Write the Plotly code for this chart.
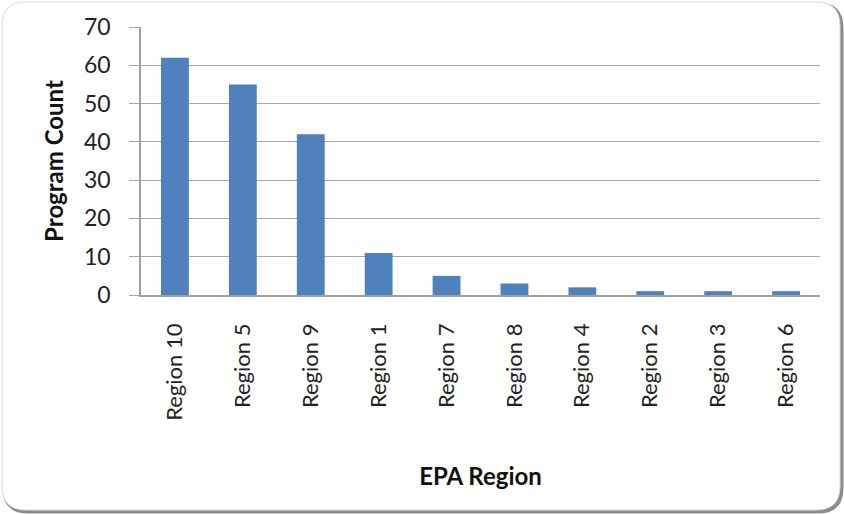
import plotly.graph_objects as go

regions = ["Region 10", "Region 5", "Region 9", "Region 1", "Region 7",
           "Region 8", "Region 4", "Region 2", "Region 3", "Region 6"]
counts = [62, 55, 42, 11, 5, 3, 2, 1, 1, 1]
y_ticks = [0, 10, 20, 30, 40, 50, 60, 70]

W, H = 844, 514
L, R, T, B = 141, 24, 27, 219
pw, ph = W - L - R, H - T - B

def px(x):
    return (x - L) / pw

def py(y):
    return (H - B - y) / ph

fig = go.Figure(go.Bar(x=regions, y=counts, marker_color="#4F81BD",
                       marker_line_width=0, width=0.41))

def rrect(x0, y0, x1, y1, r):
    return (f"M {px(x0+r)},{py(y0)} L {px(x1-r)},{py(y0)} "
            f"Q {px(x1)},{py(y0)} {px(x1)},{py(y0+r)} "
            f"L {px(x1)},{py(y1-r)} Q {px(x1)},{py(y1)} {px(x1-r)},{py(y1)} "
            f"L {px(x0+r)},{py(y1)} Q {px(x0)},{py(y1)} {px(x0)},{py(y1-r)} "
            f"L {px(x0)},{py(y0+r)} Q {px(x0)},{py(y0)} {px(x0+r)},{py(y0)} Z")

# shadow + rounded frame
fig.add_shape(type="path", path=rrect(4, 4, 842, 512, 24), xref="paper", yref="paper",
              line=dict(color="#8c8c8c", width=3), fillcolor="#8c8c8c", layer="below")
fig.add_shape(type="path", path=rrect(2, 2, 840, 510, 24), xref="paper", yref="paper",
              line=dict(color="#dcdcdc", width=1), fillcolor="white", layer="below")

tick_font = "Lato, Liberation Sans, sans-serif"
fig.update_layout(
    width=W, height=H,
    margin=dict(l=L, r=R, t=T, b=B),
    paper_bgcolor="white", plot_bgcolor="rgba(0,0,0,0)",
    font=dict(family=tick_font, color="#1a1a1a", size=20),
    showlegend=False,
    bargap=0.59,
    xaxis=dict(
        tickangle=-90, showgrid=False, showline=True, linecolor="#a0a0a0", linewidth=1.5,
        ticks="", ticklabelstandoff=18, automargin=False,
        tickfont=dict(size=22, family=tick_font, color="#222"),
        title=dict(text="<b>EPA Region</b>", standoff=48,
                   font=dict(size=24, family=tick_font, color="#111")),
    ),
    yaxis=dict(
        range=[0, 70], tickvals=y_ticks, showgrid=True, gridcolor="#a6a6a6", gridwidth=1.2,
        showline=True, linecolor="#a0a0a0", linewidth=1.5, automargin=False,
        ticks="outside", ticklen=10, tickcolor="#a6a6a6", zeroline=False,
        ticklabelstandoff=14,
        tickfont=dict(size=23, family=tick_font, color="#222"),
        title=dict(text="<b>Program Count</b>", standoff=14,
                   font=dict(size=24, family=tick_font, color="#111")),
    ),
)

fig.write_html("out.html", config={"displayModeBar": False},
               post_script="document.body.style.margin='0';")
